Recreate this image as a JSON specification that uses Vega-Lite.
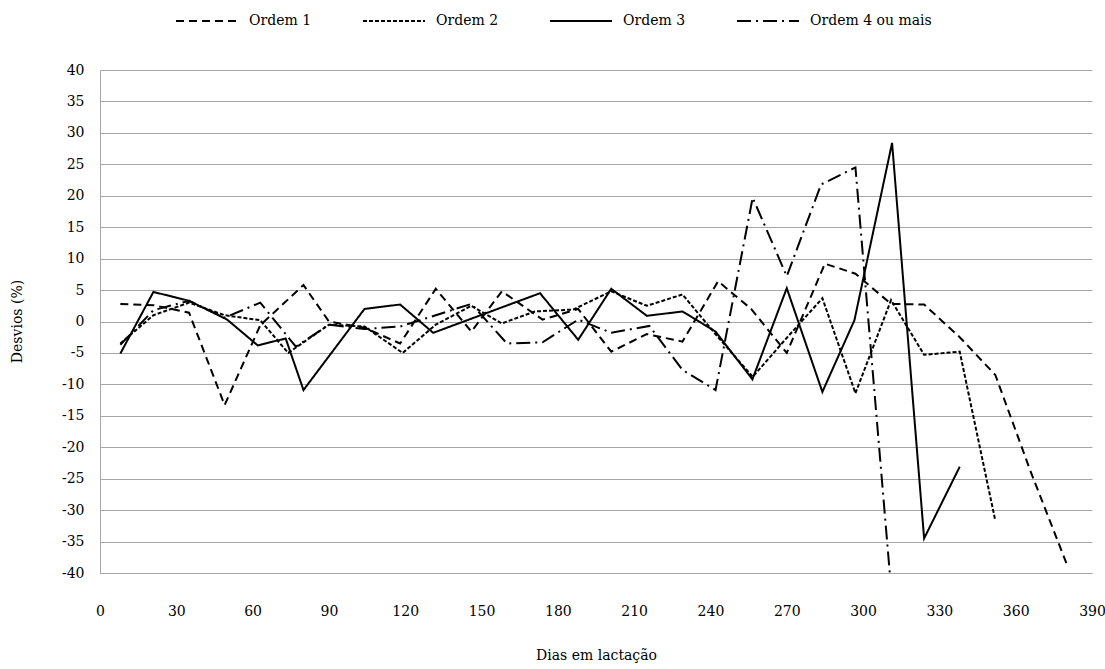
{
  "$schema": "https://vega.github.io/schema/vega-lite/v6.json",
  "width": 992,
  "height": 503,
  "autosize": {"type": "none"},
  "padding": {"left": 100, "top": 70, "right": 13, "bottom": 96},
  "background": "white",
  "config": {
    "view": {"stroke": null},
    "font": "DejaVu Serif"
  },
  "data": {
    "values": [
      {"serie": "Ordem 1", "dia": 8, "desvio": 2.8},
      {"serie": "Ordem 1", "dia": 21, "desvio": 2.6},
      {"serie": "Ordem 1", "dia": 35, "desvio": 1.4},
      {"serie": "Ordem 1", "dia": 49, "desvio": -13.3},
      {"serie": "Ordem 1", "dia": 63, "desvio": -0.6},
      {"serie": "Ordem 1", "dia": 80, "desvio": 5.8},
      {"serie": "Ordem 1", "dia": 90, "desvio": 0},
      {"serie": "Ordem 1", "dia": 104, "desvio": -1.0},
      {"serie": "Ordem 1", "dia": 118, "desvio": -3.5},
      {"serie": "Ordem 1", "dia": 132, "desvio": 5.2},
      {"serie": "Ordem 1", "dia": 146, "desvio": -1.6},
      {"serie": "Ordem 1", "dia": 158, "desvio": 4.8},
      {"serie": "Ordem 1", "dia": 174, "desvio": 0.3},
      {"serie": "Ordem 1", "dia": 188, "desvio": 2.0},
      {"serie": "Ordem 1", "dia": 201, "desvio": -4.8},
      {"serie": "Ordem 1", "dia": 215, "desvio": -2.0},
      {"serie": "Ordem 1", "dia": 229, "desvio": -3.2},
      {"serie": "Ordem 1", "dia": 243, "desvio": 6.4},
      {"serie": "Ordem 1", "dia": 256, "desvio": 2.0},
      {"serie": "Ordem 1", "dia": 270, "desvio": -5.0},
      {"serie": "Ordem 1", "dia": 285, "desvio": 9.2},
      {"serie": "Ordem 1", "dia": 297, "desvio": 7.6},
      {"serie": "Ordem 1", "dia": 311, "desvio": 2.8},
      {"serie": "Ordem 1", "dia": 324, "desvio": 2.7},
      {"serie": "Ordem 1", "dia": 338, "desvio": -2.5},
      {"serie": "Ordem 1", "dia": 352, "desvio": -8.5},
      {"serie": "Ordem 1", "dia": 366, "desvio": -24},
      {"serie": "Ordem 1", "dia": 380, "desvio": -38.5},

      {"serie": "Ordem 2", "dia": 8, "desvio": -3.5},
      {"serie": "Ordem 2", "dia": 21, "desvio": 1.0},
      {"serie": "Ordem 2", "dia": 35, "desvio": 3.0},
      {"serie": "Ordem 2", "dia": 49, "desvio": 1.0},
      {"serie": "Ordem 2", "dia": 63, "desvio": 0.2},
      {"serie": "Ordem 2", "dia": 74, "desvio": -5.0},
      {"serie": "Ordem 2", "dia": 90, "desvio": -0.5},
      {"serie": "Ordem 2", "dia": 104, "desvio": -0.8},
      {"serie": "Ordem 2", "dia": 119, "desvio": -5.0},
      {"serie": "Ordem 2", "dia": 132, "desvio": -0.5},
      {"serie": "Ordem 2", "dia": 146, "desvio": 2.5},
      {"serie": "Ordem 2", "dia": 158, "desvio": -0.3},
      {"serie": "Ordem 2", "dia": 171, "desvio": 1.6},
      {"serie": "Ordem 2", "dia": 186, "desvio": 1.9},
      {"serie": "Ordem 2", "dia": 201, "desvio": 4.8},
      {"serie": "Ordem 2", "dia": 215, "desvio": 2.5},
      {"serie": "Ordem 2", "dia": 229, "desvio": 4.3},
      {"serie": "Ordem 2", "dia": 243, "desvio": -2.5},
      {"serie": "Ordem 2", "dia": 256.6, "desvio": -8.8},
      {"serie": "Ordem 2", "dia": 270, "desvio": -2.6},
      {"serie": "Ordem 2", "dia": 284, "desvio": 3.7},
      {"serie": "Ordem 2", "dia": 297, "desvio": -11.4},
      {"serie": "Ordem 2", "dia": 311, "desvio": 3.4},
      {"serie": "Ordem 2", "dia": 324, "desvio": -5.3},
      {"serie": "Ordem 2", "dia": 338, "desvio": -4.8},
      {"serie": "Ordem 2", "dia": 352, "desvio": -31.7},

      {"serie": "Ordem 3", "dia": 8, "desvio": -5.1},
      {"serie": "Ordem 3", "dia": 21, "desvio": 4.7},
      {"serie": "Ordem 3", "dia": 35, "desvio": 3.3},
      {"serie": "Ordem 3", "dia": 50, "desvio": 0.3},
      {"serie": "Ordem 3", "dia": 62, "desvio": -3.8},
      {"serie": "Ordem 3", "dia": 73, "desvio": -2.7},
      {"serie": "Ordem 3", "dia": 80, "desvio": -10.9},
      {"serie": "Ordem 3", "dia": 104, "desvio": 2.0},
      {"serie": "Ordem 3", "dia": 118, "desvio": 2.7},
      {"serie": "Ordem 3", "dia": 131, "desvio": -1.8},
      {"serie": "Ordem 3", "dia": 145, "desvio": 0.3},
      {"serie": "Ordem 3", "dia": 159, "desvio": 2.4},
      {"serie": "Ordem 3", "dia": 173, "desvio": 4.5},
      {"serie": "Ordem 3", "dia": 188, "desvio": -2.9},
      {"serie": "Ordem 3", "dia": 201, "desvio": 5.2},
      {"serie": "Ordem 3", "dia": 215, "desvio": 0.9},
      {"serie": "Ordem 3", "dia": 229, "desvio": 1.6},
      {"serie": "Ordem 3", "dia": 242, "desvio": -1.6},
      {"serie": "Ordem 3", "dia": 256.5, "desvio": -9.2},
      {"serie": "Ordem 3", "dia": 270, "desvio": 5.3},
      {"serie": "Ordem 3", "dia": 284, "desvio": -11.2},
      {"serie": "Ordem 3", "dia": 296.6, "desvio": 0.2},
      {"serie": "Ordem 3", "dia": 311.4, "desvio": 28.4},
      {"serie": "Ordem 3", "dia": 324, "desvio": -34.5},
      {"serie": "Ordem 3", "dia": 338, "desvio": -23.1},

      {"serie": "Ordem 4 ou mais", "dia": 8, "desvio": -3.7},
      {"serie": "Ordem 4 ou mais", "dia": 21, "desvio": 1.8},
      {"serie": "Ordem 4 ou mais", "dia": 35, "desvio": 3.3},
      {"serie": "Ordem 4 ou mais", "dia": 49, "desvio": 0.6},
      {"serie": "Ordem 4 ou mais", "dia": 63, "desvio": 3.0},
      {"serie": "Ordem 4 ou mais", "dia": 77, "desvio": -4.0},
      {"serie": "Ordem 4 ou mais", "dia": 90, "desvio": -0.5},
      {"serie": "Ordem 4 ou mais", "dia": 104, "desvio": -1.2},
      {"serie": "Ordem 4 ou mais", "dia": 118, "desvio": -0.8},
      {"serie": "Ordem 4 ou mais", "dia": 132, "desvio": 1.0},
      {"serie": "Ordem 4 ou mais", "dia": 146, "desvio": 2.8},
      {"serie": "Ordem 4 ou mais", "dia": 160, "desvio": -3.5},
      {"serie": "Ordem 4 ou mais", "dia": 174, "desvio": -3.3},
      {"serie": "Ordem 4 ou mais", "dia": 188, "desvio": 0.3},
      {"serie": "Ordem 4 ou mais", "dia": 201, "desvio": -1.8},
      {"serie": "Ordem 4 ou mais", "dia": 216, "desvio": -0.7},
      {"serie": "Ordem 4 ou mais", "dia": 229, "desvio": -7.7},
      {"serie": "Ordem 4 ou mais", "dia": 242, "desvio": -10.9},
      {"serie": "Ordem 4 ou mais", "dia": 256.6, "desvio": 19.7},
      {"serie": "Ordem 4 ou mais", "dia": 270, "desvio": 7.2},
      {"serie": "Ordem 4 ou mais", "dia": 283.5, "desvio": 21.8},
      {"serie": "Ordem 4 ou mais", "dia": 297, "desvio": 24.5},
      {"serie": "Ordem 4 ou mais", "dia": 310.5, "desvio": -40}
    ]
  },
  "mark": {"type": "line", "color": "black", "strokeWidth": 2, "clip": true},
  "encoding": {
    "x": {
      "field": "dia",
      "type": "quantitative",
      "scale": {"domain": [0, 390], "nice": false, "zero": false},
      "axis": {
        "title": "Dias em lactação",
        "values": [0, 30, 60, 90, 120, 150, 180, 210, 240, 270, 300, 330, 360, 390],
        "labelExpr": "'' + datum.value",
        "grid": false,
        "tickSize": 0,
        "domainColor": "#a6a6a6",
        "labelFont": "DejaVu Serif",
        "labelFontSize": 14,
        "labelColor": "black",
        "labelPadding": 31,
        "labelFlush": false,
        "titleFont": "DejaVu Serif",
        "titleFontSize": 14,
        "titleFontWeight": "normal",
        "titleColor": "black",
        "titleBaseline": "middle",
        "titleY": 82
      }
    },
    "y": {
      "field": "desvio",
      "type": "quantitative",
      "scale": {"domain": [-40, 40], "nice": false, "zero": false},
      "axis": {
        "title": "Desvios (%)",
        "values": [-40, -35, -30, -25, -20, -15, -10, -5, 0, 5, 10, 15, 20, 25, 30, 35, 40],
        "labelExpr": "'' + datum.value",
        "grid": true,
        "gridColor": "#a6a6a6",
        "gridWidth": 1,
        "tickSize": 0,
        "domainColor": "#a6a6a6",
        "labelFont": "DejaVu Serif",
        "labelFontSize": 14,
        "labelColor": "black",
        "labelPadding": 16,
        "labelFlush": false,
        "titleFont": "DejaVu Serif",
        "titleFontSize": 14,
        "titleFontWeight": "normal",
        "titleColor": "black",
        "titleX": -76,
        "titleY": 251,
        "titleAnchor": "middle"
      }
    },
    "strokeDash": {
      "field": "serie",
      "type": "nominal",
      "scale": {
        "domain": ["Ordem 1", "Ordem 2", "Ordem 3", "Ordem 4 ou mais"],
        "range": [[8, 5], [4, 2], [1, 0], [14, 5, 2, 5]]
      },
      "legend": {
        "title": null,
        "orient": "none",
        "legendX": 75,
        "legendY": -81,
        "direction": "horizontal",
        "columns": 4,
        "padding": 0,
        "symbolType": "stroke",
        "symbolSize": 3844,
        "symbolStrokeWidth": 2,
        "symbolStrokeColor": "black",
        "labelFont": "DejaVu Serif",
        "labelFontSize": 14,
        "labelColor": "black",
        "labelOffset": 10,
        "columnPadding": 47
      }
    }
  }
}
